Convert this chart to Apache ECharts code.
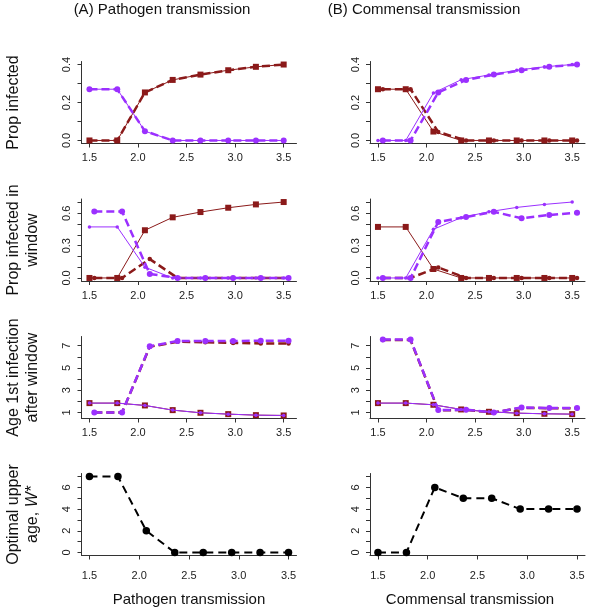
<!DOCTYPE html>
<html><head><meta charset="utf-8">
<script src="https://cdn.jsdelivr.net/npm/echarts@6/dist/echarts.min.js"></script>
<style>html,body{margin:0;padding:0;background:#fff}#c{width:600px;height:612px}</style>
</head><body><div id="c"></div>
<script>
// ---------------- data ----------------
const xValues = [1.5, 1.786, 2.071, 2.357, 2.643, 2.929, 3.214, 3.5];
const xTickValues = [1.5, 2.0, 2.5, 3.0, 3.5];
const xTickLabels = ['1.5', '2.0', '2.5', '3.0', '3.5'];

// Row 1: Prop infected
const aPropRedThin   = [0, 0, 0.253, 0.319, 0.347, 0.370, 0.388, 0.400];
const aPropRedThick  = [0, 0, 0.253, 0.319, 0.347, 0.370, 0.388, 0.400];
const aPropPurThin   = [0.27, 0.27, 0.049, 0, 0, 0, 0, 0];
const aPropPurThick  = [0.27, 0.27, 0.049, 0, 0, 0, 0, 0];
const bPropRedThin   = [0.27, 0.27, 0.047, 0, 0, 0, 0, 0];
const bPropRedThick  = [0.27, 0.27, 0.045, 0, 0, 0, 0, 0];
const bPropPurThin   = [0, 0, 0.25, 0.32, 0.345, 0.37, 0.388, 0.40];
const bPropPurThick  = [0, 0, 0.253, 0.319, 0.347, 0.370, 0.388, 0.400];

// Row 2: Prop infected in window
const aWinRedThin    = [0, 0, 0.443, 0.563, 0.612, 0.652, 0.683, 0.705];
const aWinRedThick   = [0, 0, 0.175, 0, 0, 0, 0, 0];
const aWinPurThin    = [0.474, 0.474, 0.10, 0, 0, 0, 0, 0];
const aWinPurThick   = [0.618, 0.618, 0.037, 0, 0, 0, 0, 0];
const bWinRedThin    = [0.474, 0.474, 0.083, 0, 0, 0, 0, 0];
const bWinRedThick   = [0, 0, 0.098, 0, 0, 0, 0, 0];
const bWinPurThin    = [0, 0, 0.452, 0.56, 0.615, 0.655, 0.683, 0.705];
const bWinPurThick   = [0, 0, 0.52, 0.566, 0.615, 0.554, 0.585, 0.606];

// Row 3: Age 1st infection after window
const aAgeRedThin    = [1.84, 1.84, 1.63, 1.21, 0.97, 0.85, 0.76, 0.73];
const aAgeRedThick   = [1.0, 1.0, 6.9, 7.35, 7.3, 7.25, 7.2, 7.2];
const aAgePurThin    = [1.84, 1.84, 1.63, 1.21, 0.97, 0.85, 0.76, 0.73];
const aAgePurThick   = [1.0, 1.0, 6.95, 7.42, 7.42, 7.42, 7.45, 7.45];
const bAgeRedThin    = [1.84, 1.84, 1.69, 1.27, 1.06, 0.94, 0.88, 0.85];
const bAgeRedThick   = [7.5, 7.5, 1.2, 1.22, 1.0, 1.42, 1.37, 1.37];
const bAgePurThin    = [1.84, 1.84, 1.69, 1.27, 1.06, 0.94, 0.88, 0.85];
const bAgePurThick   = [7.55, 7.55, 1.21, 1.24, 1.0, 1.45, 1.39, 1.39];

// Row 4: Optimal upper age W*
const aOptimal = [7, 7, 2, 0, 0, 0, 0, 0];
const bOptimal = [0, 0, 6, 5, 5, 4, 4, 4];

// y tick values and labels per row
const yTicksRow1 = [0, 0.1, 0.2, 0.3, 0.4];
const yLabelsRow1 = ['0.0', '', '0.2', '', '0.4'];
const yTicksRow2 = [0, 0.1, 0.2, 0.3, 0.4, 0.5, 0.6, 0.7];
const yLabelsRow2 = ['0.0', '', '', '0.3', '', '', '0.6', ''];
const yTicksRow3 = [1, 2, 3, 4, 5, 6, 7];
const yLabelsRow3 = ['1', '', '3', '', '5', '', '7'];
const yTicksRow4 = [0, 1, 2, 3, 4, 5, 6, 7];
const yLabelsRow4 = ['0', '', '2', '', '4', '', '6', ''];

const colTitles = ['(A) Pathogen transmission', '(B) Commensal transmission'];
const xNames = ['Pathogen transmission', 'Commensal transmission'];
const rowNames = [['Prop infected'], ['Prop infected in', 'window'], ['Age 1st infection', 'after window'], ['Optimal upper', 'age, {i|W*}']];

// ---------------- layout / style ----------------
const RED = '#8B1A1A', PUR = '#9B30FF';
const colLeft = [81.5, 370], plotW = 215;
const rowTop = [61.5, 199, 336.5, 473.5], plotH = 82;
const xLabelMargin = [9, 9, 9, 15];
const DODGE = 0.05;
const FONT = 'Liberation Sans, Arial, sans-serif';

const rows = [
  {ticks: yTicksRow1, labels: yLabelsRow1, panels: [
    {dodge: 0, s: [aPropRedThin, aPropRedThick, aPropPurThin, aPropPurThick]},
    {dodge: DODGE, s: [bPropRedThin, bPropRedThick, bPropPurThin, bPropPurThick]}]},
  {ticks: yTicksRow2, labels: yLabelsRow2, panels: [
    {dodge: DODGE, s: [aWinRedThin, aWinRedThick, aWinPurThin, aWinPurThick]},
    {dodge: DODGE, s: [bWinRedThin, bWinRedThick, bWinPurThin, bWinPurThick]}]},
  {ticks: yTicksRow3, labels: yLabelsRow3, panels: [
    {dodge: DODGE, s: [aAgeRedThin, aAgeRedThick, aAgePurThin, aAgePurThick]},
    {dodge: DODGE, s: [bAgeRedThin, bAgeRedThick, bAgePurThin, bAgePurThick]}]},
  {ticks: yTicksRow4, labels: yLabelsRow4, panels: [
    {dodge: 0, single: aOptimal},
    {dodge: 0, single: bOptimal}]}
];

const styles = [
  {color: RED, width: 1, type: 'solid', symbol: 'rect', size: 6},
  {color: RED, width: 2.5, type: [8, 4], symbol: 'circle', size: 4.5},
  {color: PUR, width: 1, type: 'solid', symbol: 'circle', size: 3.5},
  {color: PUR, width: 2.5, type: [8, 4], symbol: 'circle', size: 6}
];
const blackStyle = {color: '#000', width: 2, type: [8, 5], symbol: 'circle', size: 7.5};

function rRange(lo, hi) { const e = (hi - lo) * 0.04; return [lo - e, hi + e]; }

const grids = [], xAxes = [], yAxes = [], series = [];
let gi = 0;
rows.forEach((row, r) => {
  let ylo = Infinity, yhi = -Infinity, xlo = Infinity, xhi = -Infinity;
  row.panels.forEach(p => {
    const arrs = p.single ? [p.single] : p.s;
    arrs.forEach((a, k) => {
      const off = (k % 2 === 1) ? p.dodge : 0;
      a.forEach((v, i) => { ylo = Math.min(ylo, v); yhi = Math.max(yhi, v);
        xlo = Math.min(xlo, xValues[i] + off); xhi = Math.max(xhi, xValues[i] + off); });
    });
  });
  const yr = rRange(ylo, yhi), xr = rRange(xlo, xhi);
  row.panels.forEach((p, c) => {
    grids.push({left: colLeft[c], top: rowTop[r], width: plotW, height: plotH});
    xAxes.push({type: 'value', gridIndex: gi, min: xr[0], max: xr[1],
      axisLine: {show: true, onZero: false, lineStyle: {color: '#333', width: 1}},
      axisTick: {show: true, customValues: xTickValues, length: 4, lineStyle: {color: '#333'}},
      axisLabel: {show: true, customValues: xTickValues, margin: xLabelMargin[r], fontSize: 11, fontFamily: FONT, color: '#222',
        formatter: v => { const i = xTickValues.findIndex(t => Math.abs(t - v) < 1e-6); return i >= 0 ? xTickLabels[i] : ''; }},
      splitLine: {show: false}});
    yAxes.push({type: 'value', gridIndex: gi, min: yr[0], max: yr[1],
      axisLine: {show: true, onZero: false, lineStyle: {color: '#333', width: 1}},
      axisTick: {show: true, customValues: row.ticks, length: 4, lineStyle: {color: '#333'}},
      axisLabel: {show: true, customValues: row.ticks, rotate: 90, margin: 9, fontSize: 11, fontFamily: FONT, color: '#222',
        formatter: v => { const i = row.ticks.findIndex(t => Math.abs(t - v) < 1e-6); return i >= 0 ? row.labels[i] : ''; }},
      splitLine: {show: false}});
    const arrs = p.single ? [p.single] : p.s;
    arrs.forEach((a, k) => {
      const st = p.single ? blackStyle : styles[k];
      const off = (!p.single && k % 2 === 1) ? p.dodge : 0;
      series.push({type: 'line', xAxisIndex: gi, yAxisIndex: gi,
        data: a.map((v, i) => [xValues[i] + off, v]),
        symbol: st.symbol, symbolSize: st.size, showSymbol: true,
        lineStyle: {color: st.color, width: st.width, type: st.type},
        itemStyle: {color: st.color, borderWidth: 0},
        z: 2 + k, animation: false, silent: true});
    });
    gi++;
  });
});

const graphics = [];
const colTitleX = [162, 424];
colTitles.forEach((t, c) => graphics.push({type: 'text', x: colTitleX[c], y: 10,
  style: {text: t, font: '15px ' + FONT, fill: '#111', textAlign: 'center', textVerticalAlign: 'middle'}}));
const xNameX = [189, 470];
xNames.forEach((t, c) => graphics.push({type: 'text', x: xNameX[c], y: 600,
  style: {text: t, font: '15px ' + FONT, fill: '#111', textAlign: 'center', textVerticalAlign: 'middle'}}));
const lineX = [14, 33];
rowNames.forEach((lines, r) => {
  const cy = rowTop[r] + plotH / 2;
  lines.forEach((t, j) => graphics.push({type: 'text', x: lineX[j], y: cy, rotation: Math.PI / 2,
    style: {text: t, font: '16px ' + FONT, fill: '#111', textAlign: 'center', textVerticalAlign: 'middle',
      rich: {i: {fontStyle: 'italic', fontSize: 16, fontFamily: FONT, fill: '#111'}}}}));
});

const chart = echarts.init(document.getElementById('c'), null, {renderer: 'canvas'});
chart.setOption({animation: false, backgroundColor: '#fff', grid: grids, xAxis: xAxes, yAxis: yAxes, series: series, graphic: graphics});
</script>
</body></html>
